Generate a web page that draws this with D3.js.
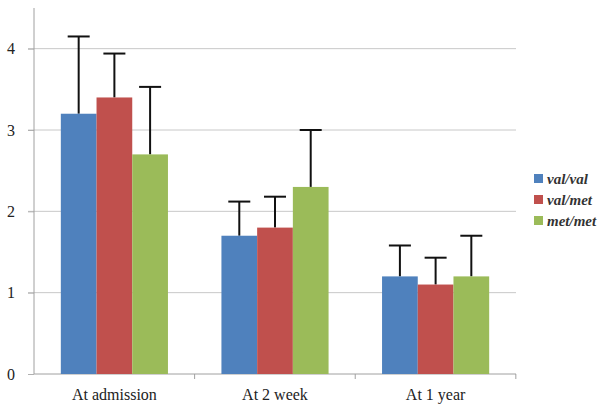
<!DOCTYPE html>
<html>
<head>
<meta charset="utf-8">
<script src="https://cdn.jsdelivr.net/npm/d3@7"></script>
<style>
  body { margin: 0; background: #fff; }
  svg { display: block; }
</style>
</head>
<body>
<svg id="chart" width="604" height="408"></svg>
<script>
// data
const categories = ['At admission', 'At 2 week', 'At 1 year'];
const seriesNames = ['val/val', 'val/met', 'met/met'];
const seriesColors = ['#4F81BD', '#C0504D', '#9BBB59'];
const valVal = [3.2, 1.7, 1.2];
const valMet = [3.4, 1.8, 1.1];
const metMet = [2.7, 2.3, 1.2];
const errValVal = [0.95, 0.42, 0.38];
const errValMet = [0.54, 0.38, 0.33];
const errMetMet = [0.83, 0.7, 0.5];
const yTicks = [0, 1, 2, 3, 4];

const seriesValues = [valVal, valMet, metMet];
const seriesErrors = [errValVal, errValMet, errMetMet];

const fontSerif = "'Liberation Serif', monospace";
const margin = {left: 34, right: 88, top: 8, bottom: 34};
const width = 604, height = 408;

const svg = d3.select('#chart');

const x = d3.scaleBand()
    .domain(categories)
    .range([margin.left, width - margin.right])
    .paddingInner(0.333)
    .paddingOuter(0.167);

const xSub = d3.scaleBand()
    .domain(seriesNames)
    .range([0, x.bandwidth()]);

const y = d3.scaleLinear()
    .domain([0, 4.5])
    .range([height - margin.bottom, margin.top]);

// gridlines
svg.append('g')
    .selectAll('line')
    .data(yTicks.filter(d => d > 0))
    .join('line')
    .attr('x1', margin.left - 6)
    .attr('x2', width - margin.right)
    .attr('y1', d => y(d))
    .attr('y2', d => y(d))
    .attr('stroke', '#c8c8c8')
    .attr('stroke-width', 1);

// y axis
const yAxis = svg.append('g')
    .attr('transform', `translate(${margin.left},0)`)
    .call(d3.axisLeft(y).tickValues(yTicks).tickSize(6).tickPadding(13).tickFormat(d3.format('d')));
yAxis.select('.domain').remove();
yAxis.selectAll('.tick line').attr('stroke', '#b0b0b0');
yAxis.selectAll('.tick text')
    .style('font-family', fontSerif)
    .style('font-size', '16px')
    .attr('fill', '#222');
yAxis.append('line')
    .attr('x1', 0).attr('x2', 0)
    .attr('y1', margin.top).attr('y2', y(0))
    .attr('stroke', '#a0a0a0');

// x axis
const step = x.step();
const xAxis = svg.append('g')
    .attr('transform', `translate(0,${y(0)})`);
xAxis.append('line')
    .attr('x1', margin.left).attr('x2', width - margin.right)
    .attr('stroke', '#a0a0a0');
xAxis.selectAll('.bound')
    .data(categories)
    .join('line')
    .attr('class', 'bound')
    .attr('x1', d => x(d) - x.paddingOuter() * step + step)
    .attr('x2', d => x(d) - x.paddingOuter() * step + step)
    .attr('y1', 0).attr('y2', 5)
    .attr('stroke', '#a0a0a0');
xAxis.selectAll('text')
    .data(categories)
    .join('text')
    .attr('x', d => x(d) + x.bandwidth() / 2)
    .attr('y', 26)
    .attr('text-anchor', 'middle')
    .style('font-family', fontSerif)
    .style('font-size', '16px')
    .attr('fill', '#222')
    .text(d => d);

// bars
const groups = svg.append('g')
    .selectAll('g')
    .data(seriesNames)
    .join('g');

groups.each(function (s, si) {
    const g = d3.select(this);
    const rows = categories.map((c, ci) => ({c, v: seriesValues[si][ci], e: seriesErrors[si][ci]}));
    const cx = d => x(d.c) + xSub(s) + xSub.bandwidth() / 2;
    // error bars
    g.selectAll('.err')
        .data(rows)
        .join('line')
        .attr('class', 'err')
        .attr('x1', cx).attr('x2', cx)
        .attr('y1', d => y(d.v))
        .attr('y2', d => y(d.v + d.e))
        .attr('stroke', '#111')
        .attr('stroke-width', 2);
    g.selectAll('.cap')
        .data(rows)
        .join('line')
        .attr('class', 'cap')
        .attr('x1', d => cx(d) - 11).attr('x2', d => cx(d) + 11)
        .attr('y1', d => y(d.v + d.e))
        .attr('y2', d => y(d.v + d.e))
        .attr('stroke', '#111')
        .attr('stroke-width', 2);
    g.selectAll('rect')
        .data(rows)
        .join('rect')
        .attr('x', d => x(d.c) + xSub(s))
        .attr('y', d => y(d.v))
        .attr('width', xSub.bandwidth())
        .attr('height', d => y(0) - y(d.v))
        .attr('fill', seriesColors[si]);
});

// legend
const legend = svg.append('g')
    .attr('transform', 'translate(534,179)');
const item = legend.selectAll('g')
    .data(seriesNames)
    .join('g')
    .attr('transform', (d, i) => `translate(0,${i * 21})`);
item.append('rect')
    .attr('x', 0).attr('y', -5)
    .attr('width', 9).attr('height', 9)
    .attr('fill', (d, i) => seriesColors[i]);
item.append('text')
    .attr('x', 13)
    .attr('y', 5)
    .style('font-family', fontSerif)
    .style('font-size', '15px')
    .style('font-style', 'italic')
    .style('font-weight', 'bold')
    .attr('fill', '#333')
    .text(d => d);
</script>
</body>
</html>
